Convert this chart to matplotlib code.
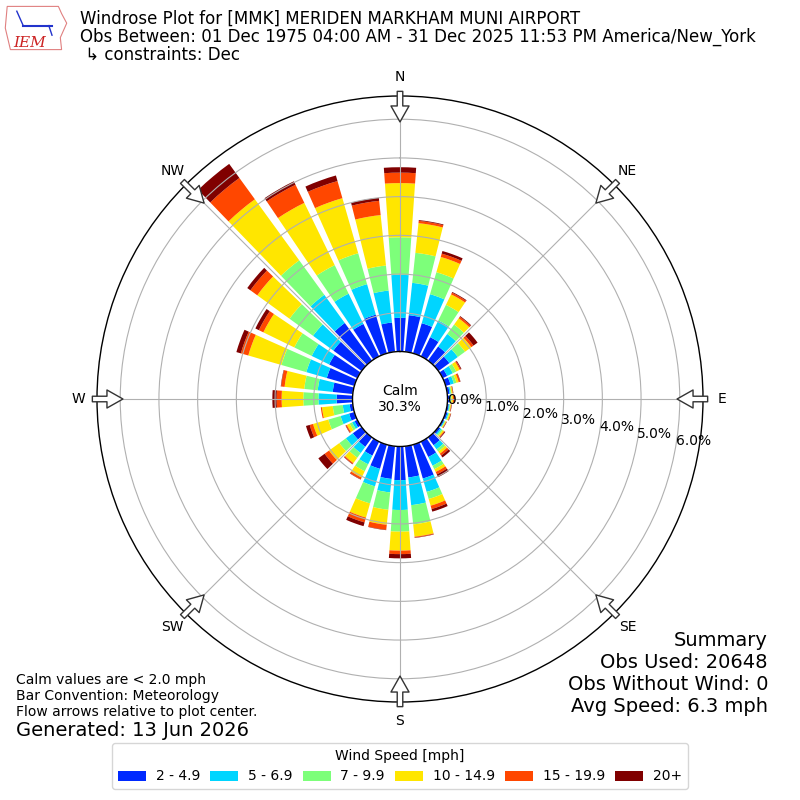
import numpy as np
import matplotlib
matplotlib.use("Agg")
import matplotlib.pyplot as plt
from matplotlib.patches import Patch, Polygon

# ---------------- data ----------------
directions = list(range(0, 360, 10))
speed_labels = ["2 - 4.9", "5 - 6.9", "7 - 9.9", "10 - 14.9", "15 - 19.9", "20+"]
calm_pct = 30.3
# percent of observations per 10-degree sector, one list per speed bin
pct_2_5 = [0.87, 0.95, 0.81, 0.55, 0.45, 0.35, 0.13, 0.13, 0.06, 0.05, 0.04, 0.05,
           0.04, 0.06, 0.25, 0.44, 0.91, 0.81, 0.87, 0.85, 0.65, 0.40, 0.30, 0.28,
           0.08, 0.14, 0.08, 0.41, 0.52, 0.74, 0.81, 0.90, 1.20, 0.93, 1.04, 0.76]
pct_5_7 = [1.11, 0.84, 0.78, 0.48, 0.40, 0.27, 0.16, 0.09, 0.03, 0.03, 0.02, 0.03,
           0.02, 0.04, 0.13, 0.25, 0.36, 0.72, 0.77, 0.35, 0.47, 0.25, 0.20, 0.22,
           0.07, 0.23, 0.18, 0.47, 0.39, 0.55, 0.50, 0.65, 0.90, 0.87, 0.82, 0.83]
pct_7_10 = [0.97, 0.78, 0.59, 0.45, 0.30, 0.23, 0.10, 0.07, 0.02, 0.02, 0.02, 0.02,
            0.02, 0.04, 0.07, 0.10, 0.19, 0.50, 0.56, 0.45, 0.46, 0.20, 0.15, 0.21,
            0.07, 0.33, 0.26, 0.39, 0.35, 0.67, 0.50, 0.75, 1.10, 0.82, 0.83, 0.65]
pct_10_15 = [1.40, 0.77, 0.41, 0.30, 0.20, 0.20, 0.10, 0.06, 0.03, 0.04, 0.02, 0.03,
             0.02, 0.04, 0.07, 0.08, 0.18, 0.32, 0.49, 0.39, 0.38, 0.18, 0.17, 0.33,
             0.08, 0.41, 0.28, 0.56, 0.51, 0.89, 0.89, 1.03, 1.95, 1.79, 1.48, 1.31]
pct_15_20 = [0.27, 0.06, 0.09, 0.05, 0.05, 0.07, 0.03, 0.04, 0.01, 0.03, 0.01, 0.01,
             0.01, 0.02, 0.06, 0.07, 0.09, 0.02, 0.09, 0.13, 0.13, 0.05, 0.03, 0.14,
             0.03, 0.09, 0.03, 0.13, 0.09, 0.20, 0.13, 0.22, 0.68, 0.52, 0.46, 0.37]
pct_20p = [0.14, 0.02, 0.07, 0.02, 0.02, 0.13, 0.02, 0.01, 0.01, 0.02, 0.01, 0.01,
           0.01, 0.02, 0.06, 0.08, 0.07, 0.01, 0.11, 0.01, 0.10, 0.01, 0.01, 0.20,
           0.01, 0.10, 0.00, 0.11, 0.01, 0.12, 0.10, 0.10, 0.45, 0.10, 0.15, 0.08]
series = [pct_2_5, pct_5_7, pct_7_10, pct_10_15, pct_15_20, pct_20p]
ring_ticks = [0, 1, 2, 3, 4, 5, 6]
compass_labels = ["N", "NE", "E", "SE", "S", "SW", "W", "NW"]
compass_deg = [0, 45, 90, 135, 180, 225, 270, 315]

# ---------------- figure ----------------
fig = plt.figure(figsize=(8, 8), dpi=100)
ax = fig.add_axes([0.12125, 0.1225, 0.7575, 0.7575], projection="polar")
ax.set_theta_zero_location("N")
ax.set_theta_direction(-1)

colors = plt.cm.jet(np.linspace(0, 1, 7))[1:]
theta = np.deg2rad(directions)
width = np.deg2rad(8.0)
base = np.zeros(len(directions))
for vals, col, lab in zip(series, colors, speed_labels):
    v = np.asarray(vals, dtype=float)
    ax.bar(theta, v, width=width, bottom=base, color=col, label=lab, linewidth=0)
    base = base + v

ax.set_ylim(0, 6.6)
ax.set_rorigin(-1.227)
ax.set_yticks(ring_ticks)
ax.set_yticklabels([])
for t in ring_ticks:
    ax.text(np.deg2rad(100), t, f"{t:.1f}%", ha="left", va="bottom", fontsize=10,
            zorder=5)
ax.set_xticks(np.deg2rad(compass_deg))
ax.set_xticklabels(compass_labels, fontsize=10)
ax.tick_params(axis="x", pad=3)
ax.grid(True, color="#b0b0b0", lw=0.8)
for sp in ax.spines.values():
    sp.set_color("black")
    sp.set_linewidth(1.0)

# flow arrows at compass points
for d in compass_deg:
    ax.annotate("", xy=(np.deg2rad(d), 5.93), xytext=(np.deg2rad(d), 6.72),
                arrowprops=dict(arrowstyle="simple,head_length=1.15,head_width=1.3,tail_width=0.4",
                                fc="white", ec="#333333", lw=1.0, shrinkA=0, shrinkB=0),
                annotation_clip=False, zorder=6)

ax.text(0.5, 0.5, f"Calm\n{calm_pct:.1f}%", transform=ax.transAxes, ha="center",
        va="center", fontsize=10, zorder=6)

# ---------------- titles ----------------
fig.text(0.1, 0.976, "Windrose Plot for [MMK] MERIDEN MARKHAM MUNI AIRPORT",
         fontsize=12, va="center")
fig.text(0.1, 0.954, "Obs Between: 01 Dec 1975 04:00 AM - 31 Dec 2025 11:53 PM America/New_York",
         fontsize=12, va="center")
fig.text(0.1, 0.931, " \u21b3 constraints: Dec", fontsize=12, va="center")

# logo (simplified)
lax = fig.add_axes([0.005, 0.935, 0.08, 0.06])
lax.set_xlim(0, 1)
lax.set_ylim(0, 1)
lax.axis("off")
lax.add_patch(Polygon([[0.05, 0.95], [0.85, 0.95], [0.9, 0.8], [0.98, 0.6], [0.88, 0.3],
                       [0.9, 0.05], [0.1, 0.05], [0.02, 0.5]], closed=True, fill=False,
                      ec="#e08080", lw=0.8))
lax.plot([0.3, 0.75], [0.55, 0.55], color="#2233cc", lw=1.5)
lax.plot([0.3, 0.2], [0.55, 0.85], color="#2233cc", lw=1)
lax.plot([0.7, 0.75], [0.55, 0.35], color="#2233cc", lw=1)
lax.text(0.15, 0.05, "IEM", color="#cc2222", fontsize=11, family="serif", style="italic",
         va="bottom")

# ---------------- footers ----------------
fig.text(0.02, 0.15, "Calm values are < 2.0 mph", fontsize=10, va="center")
fig.text(0.02, 0.13, "Bar Convention: Meteorology", fontsize=10, va="center")
fig.text(0.02, 0.11, "Flow arrows relative to plot center.", fontsize=10, va="center")
fig.text(0.02, 0.0875, "Generated: 13 Jun 2026", fontsize=14, va="center")

fig.text(0.96, 0.2, "Summary", fontsize=14, ha="right", va="center")
fig.text(0.96, 0.1725, "Obs Used: 20648", fontsize=14, ha="right", va="center")
fig.text(0.96, 0.145, "Obs Without Wind: 0", fontsize=14, ha="right", va="center")
fig.text(0.96, 0.1175, "Avg Speed: 6.3 mph", fontsize=14, ha="right", va="center")

handles = [Patch(facecolor=c, label=l) for c, l in zip(colors, speed_labels)]
fig.legend(handles=handles, loc="lower center", ncol=6, bbox_to_anchor=(0.5, 0.005),
           title="Wind Speed [mph]", fontsize=10, title_fontsize=10,
           columnspacing=0.75, handletextpad=0.7)

fig.savefig("out.png", dpi=100)
